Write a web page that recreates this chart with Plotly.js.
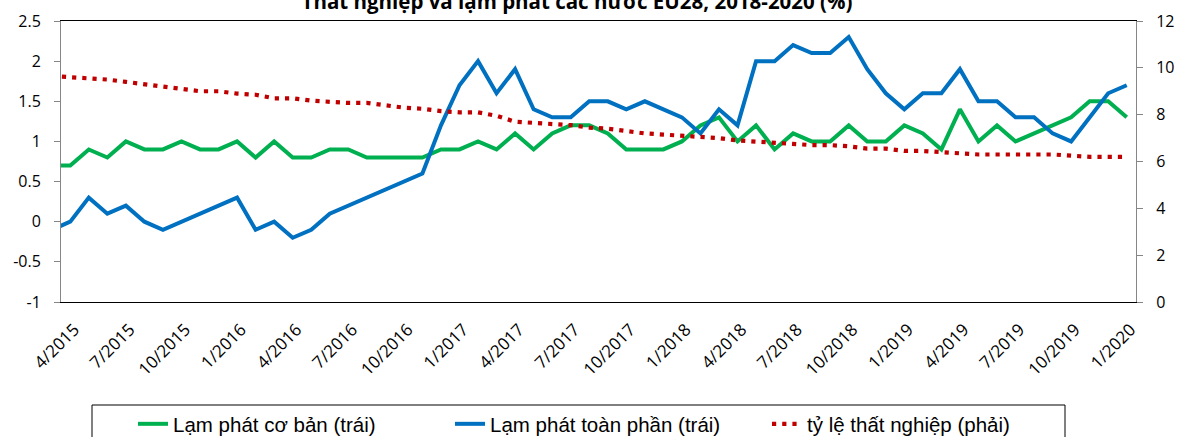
<!DOCTYPE html>
<html><head><meta charset="utf-8">
<script src="https://cdn.plot.ly/plotly-3.0.1.min.js"></script>
<style>html,body{margin:0;padding:0;background:#fff}#chart{width:1178px;height:437px}</style>
</head><body><div id="chart"></div>
<script>
const months = ["3/2015","4/2015","5/2015","6/2015","7/2015","8/2015","9/2015","10/2015","11/2015","12/2015",
  "1/2016","2/2016","3/2016","4/2016","5/2016","6/2016","7/2016","8/2016","9/2016","10/2016","11/2016","12/2016",
  "1/2017","2/2017","3/2017","4/2017","5/2017","6/2017","7/2017","8/2017","9/2017","10/2017","11/2017","12/2017",
  "1/2018","2/2018","3/2018","4/2018","5/2018","6/2018","7/2018","8/2018","9/2018","10/2018","11/2018","12/2018",
  "1/2019","2/2019","3/2019","4/2019","5/2019","6/2019","7/2019","8/2019","9/2019","10/2019","11/2019","12/2019",
  "1/2020"];
const coreInflation = [0.7, 0.7,0.9,0.8,1.0,0.9,0.9,1.0,0.9,0.9,1.0, 0.8,1.0,0.8,0.8,0.9,0.9,0.8,0.8,0.8,0.8,
  0.9,0.9,1.0,0.9,1.1,0.9,1.1,1.2,1.2,1.1, 0.9,0.9,0.9,1.0,1.2,1.3,1.0,1.2,0.9,1.1,
  1.0,1.0,1.2,1.0,1.0,1.2,1.1,0.9,1.4,1.0, 1.2,1.0,1.1,1.2,1.3,1.5,1.5,1.3];
const headlineInflation = [-0.1, 0.0,0.3,0.1,0.2,0.0,-0.1,0.0,0.1,0.2,0.3, -0.1,0.0,-0.2,-0.1,0.1,0.2,0.3,0.4,0.5,0.6,
  1.2,1.7,2.0,1.6,1.9,1.4,1.3,1.3,1.5,1.5, 1.4,1.5,1.4,1.3,1.1,1.4,1.2,2.0,2.0,2.2,
  2.1,2.1,2.3,1.9,1.6,1.4,1.6,1.6,1.9,1.5, 1.5,1.3,1.3,1.1,1.0,1.3,1.6,1.7];
const unemployment = [9.65, 9.6,9.55,9.5,9.4,9.3,9.2,9.1,9.0,9.0,8.9, 8.85,8.7,8.7,8.6,8.55,8.5,8.5,8.4,8.3,8.25,
  8.15,8.1,8.1,7.95,7.7,7.65,7.6,7.55,7.45,7.4, 7.3,7.2,7.15,7.1,7.05,7.0,6.9,6.85,6.8,6.75,
  6.7,6.7,6.65,6.55,6.55,6.45,6.45,6.4,6.35,6.3, 6.3,6.3,6.3,6.3,6.25,6.2,6.2,6.2];
const seriesNames = ["Lạm phát cơ bản (trái)", "Lạm phát toàn phần (trái)", "tỷ lệ thất nghiệp (phải)"];
const leftTickVals = [-1,-0.5,0,0.5,1,1.5,2,2.5];
const leftTickText = ["-1","-0.5","0","0.5","1","1.5","2","2.5"];
const rightTickVals = [0,2,4,6,8,10,12];
const chartTitle = "Thất nghiệp và lạm phát các nước EU28, 2018-2020 (%)";

const shownMonths = months.filter((m, i) => i % 3 === 1);
const tickFont = {family: "Open Sans", size: 17, color: "#000"};

const traces = [
  {x: months, y: coreInflation, name: seriesNames[0], type: "scatter", mode: "lines",
   line: {color: "#00B050", width: 4}},
  {x: months, y: headlineInflation, name: seriesNames[1], type: "scatter", mode: "lines",
   line: {color: "#0070C0", width: 4}},
  {x: months, y: unemployment, name: seriesNames[2], type: "scatter", mode: "lines", yaxis: "y2",
   line: {color: "#C00000", width: 4.2, dash: "4.2px,6px"}}
];

const W = 1178, H = 437, L = 61, R = 1136, T = 21, B = 302;
const layout = {
  width: W, height: H,
  margin: {l: L, r: W - R, t: T, b: H - B, pad: 0, autoexpand: false},
  paper_bgcolor: "#fff", plot_bgcolor: "#fff",
  showlegend: true,
  title: {text: chartTitle, font: {family: "Open Sans", size: 20.5, color: "#000", weight: "bold"},
    xref: "container", x: 577 / W, xanchor: "center", yref: "container", y: 1 - 1.8 / H, yanchor: "middle"},
  xaxis: {type: "category", range: [0.5, 58.5], tickmode: "array", tickvals: shownMonths, ticktext: shownMonths,
    tickangle: -45, ticks: "", showline: true, linecolor: "#000", linewidth: 1, mirror: true,
    showgrid: false, zeroline: false, tickfont: tickFont, ticklabelstandoff: 10, ticklabelshift: 4},
  xaxis2: {type: "linear", overlaying: "x", anchor: "free", position: 1 / 3.5, range: [0.5, 58.5],
    tickmode: "linear", tick0: 0.5, dtick: 3, ticks: "outside", ticklen: 7, tickcolor: "#868686",
    showline: true, linecolor: "#868686", linewidth: 1, showticklabels: false, showgrid: false, zeroline: false},
  yaxis: {range: [-1, 2.5], tickmode: "array", tickvals: leftTickVals, ticktext: leftTickText,
    ticks: "outside", ticklen: 6, tickcolor: "#868686", showline: true, linecolor: "#868686",
    showgrid: false, zeroline: false, tickfont: {family: "Open Sans", size: 16, color: "#000"}, ticklabelstandoff: 10},
  yaxis2: {overlaying: "y", side: "right", range: [0, 12], tickmode: "array", tickvals: rightTickVals,
    ticks: "outside", ticklen: 6, tickcolor: "#868686", showline: true, linecolor: "#868686",
    showgrid: false, zeroline: false, tickfont: {family: "Open Sans", size: 16, color: "#000"}, ticklabelstandoff: 10},
  legend: {orientation: "h", x: (133 - L) / (R - L), xanchor: "left", y: (B - 424) / (B - T), yanchor: "middle",
    font: {family: "Liberation Sans", size: 20.5, color: "#000"}, entrywidth: 272, entrywidthmode: "pixels",
    bgcolor: "rgba(0,0,0,0)", borderwidth: 0},
  shapes: [{type: "rect", xref: "paper", yref: "paper",
    x0: (92 - L) / (R - L), x1: (1065 - L) / (R - L), y0: (B - 405) / (B - T), y1: (B - 460) / (B - T),
    line: {color: "#000", width: 1}, fillcolor: "rgba(0,0,0,0)"}]
};
Plotly.newPlot("chart", traces, layout, {displayModeBar: false, staticPlot: true});
</script></body></html>
